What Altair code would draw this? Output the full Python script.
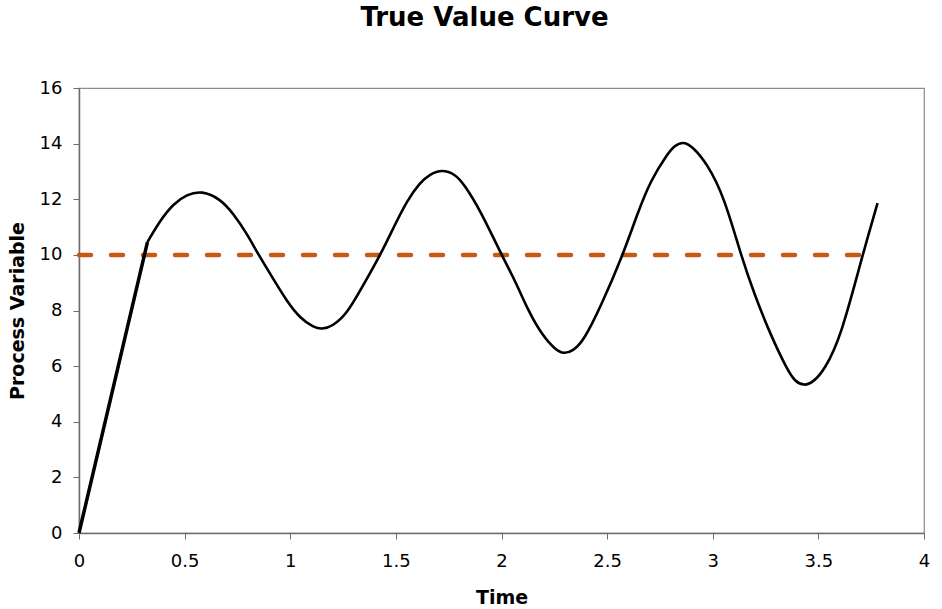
import altair as alt
import pandas as pd

# Ramp segment (straight line)
ramp_t = [0.0, 0.324]
ramp_v = [0.0, 10.46]

# Oscillating segment
curve_t = [0.324, 0.324, 0.384, 0.447, 0.510, 0.581, 0.668, 0.731, 0.795, 0.850, 0.921,
           0.984, 1.047, 1.110, 1.150, 1.200, 1.269, 1.332, 1.427, 1.490, 1.553, 1.616,
           1.660, 1.719, 1.780, 1.821, 1.900, 2.000, 2.066, 2.129, 2.193, 2.256, 2.295, 2.340, 2.390,
           2.469, 2.575, 2.643, 2.706, 2.785, 2.820, 2.858, 2.900, 2.975, 3.054, 3.133, 3.196,
           3.275, 3.354, 3.390, 3.433, 3.475, 3.528, 3.607, 3.709, 3.780, 3.780]
curve_v = [10.46, 10.46, 11.24, 11.84, 12.17, 12.31, 12.02, 11.48, 10.76, 10.00, 9.12,
           8.33, 7.72, 7.40, 7.32, 7.43, 7.89, 8.73, 10.00, 11.00, 11.96, 12.61,
           12.90, 13.07, 12.90, 12.56, 11.60, 10.00, 9.05, 7.95, 7.11, 6.58, 6.44, 6.55, 6.93,
           8.13, 10.00, 11.48, 12.68, 13.63, 13.93, 14.07, 13.93, 13.27, 12.08, 10.00, 8.60,
           7.10, 5.85, 5.44, 5.29, 5.42, 5.85, 7.05, 10.00, 11.86, 11.86]

# Set point line
sp_t = [0.0, 3.73]
sp_v = [10.0, 10.0]

ramp = pd.DataFrame({"t": ramp_t, "v": ramp_v})
curve = pd.DataFrame({"t": curve_t, "v": curve_v})
sp = pd.DataFrame({"t": sp_t, "v": sp_v})

xs = alt.X("t:Q", title="Time",
           scale=alt.Scale(domain=[0, 4], nice=False, zero=False),
           axis=alt.Axis(values=[0, 0.5, 1, 1.5, 2, 2.5, 3, 3.5, 4],
                         labelExpr="datum.value", grid=False, titlePadding=18,
                         labelPadding=13, labelFlush=False))
ys = alt.Y("v:Q", title="Process Variable",
           scale=alt.Scale(domain=[0, 16], nice=False),
           axis=alt.Axis(values=[0, 2, 4, 6, 8, 10, 12, 14, 16], grid=False,
                         titlePadding=12, labelPadding=11, labelFlush=False))

sp_layer = alt.Chart(sp).mark_line(color="#C55A11", strokeWidth=4.5,
                                   strokeDash=[12, 20], strokeCap="round").encode(x=xs, y=ys)
ramp_layer = alt.Chart(ramp).mark_line(color="black", strokeWidth=3.5).encode(x=xs, y=ys)
curve_layer = alt.Chart(curve).mark_line(color="black", strokeWidth=2.6,
                                         interpolate="basis").encode(x=xs, y=ys)

chart = alt.layer(sp_layer, ramp_layer, curve_layer).properties(
    width=845, height=445,
    title=alt.TitleParams("True Value Curve", font="DejaVu Sans", fontSize=26,
                          fontWeight="bold", color="black", anchor="middle",
                          dx=-17, offset=48),
    autosize=alt.AutoSizeParams(type="none"),
    padding={"left": 79, "top": 88, "right": 18, "bottom": 76},
).configure(background="white").configure_view(
    stroke="#8c8c8c", strokeWidth=1.2
).configure_axis(
    domainColor="#6e6e6e", tickColor="#6e6e6e", tickSize=6, domainWidth=1.5,
    labelFont="DejaVu Sans", labelFontSize=18, labelColor="black",
    titleFont="DejaVu Sans", titleFontSize=19, titleFontWeight="bold", titleColor="black"
)

chart.save("out.html", embed_options={"renderer": "svg", "actions": False})
